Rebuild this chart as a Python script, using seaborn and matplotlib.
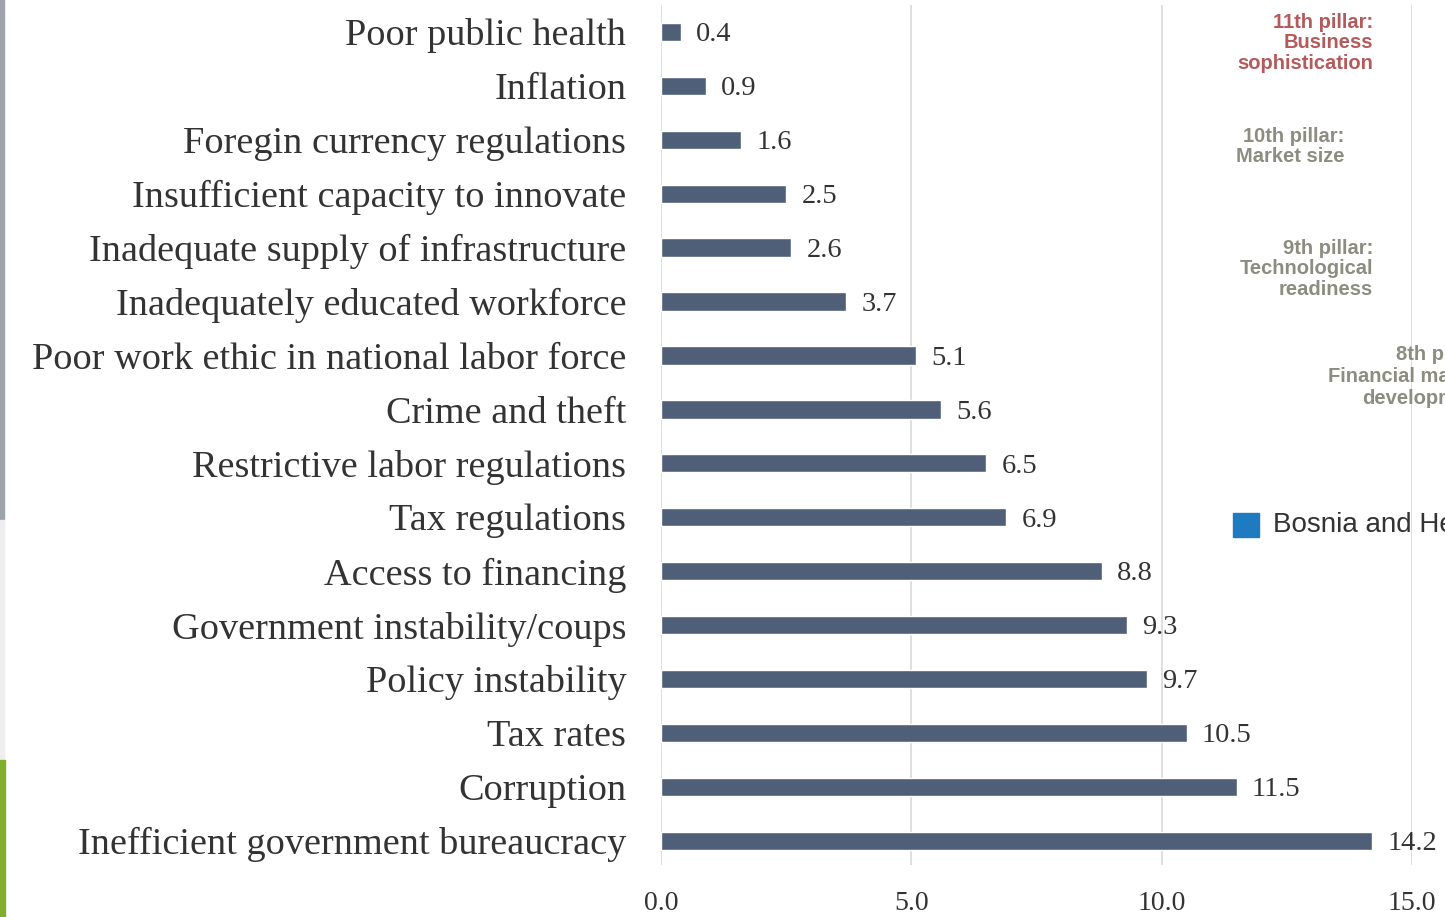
import matplotlib
matplotlib.use('Agg')
import matplotlib.pyplot as plt
import seaborn as sns
import pandas as pd

# 数据（自上而下）
factors = [
    'Poor public health',
    'Inflation',
    'Foregin currency regulations',
    'Insufficient capacity to innovate',
    'Inadequate supply of infrastructure',
    'Inadequately educated workforce',
    'Poor work ethic in national labor force',
    'Crime and theft',
    'Restrictive labor regulations',
    'Tax regulations',
    'Access to financing',
    'Government instability/coups',
    'Policy instability',
    'Tax rates',
    'Corruption',
    'Inefficient government bureaucracy',
]
scores = [0.4, 0.9, 1.6, 2.5, 2.6, 3.7, 5.1, 5.6, 6.5, 6.9, 8.8, 9.3, 9.7, 10.5, 11.5, 14.2]
x_ticks = [0.0, 5.0, 10.0, 15.0]

df = pd.DataFrame({'factor': factors, 'score': scores})

sns.set_theme(style='white')
plt.rcParams['font.family'] = ['Liberation Serif', 'DejaVu Serif']

W, H = 1445, 917
fig = plt.figure(figsize=(W / 100, H / 100), dpi=100)
ax = fig.add_axes([661 / W, 1 - 865 / H, (1412 - 661) / W, (865 - 5) / H])

sns.barplot(data=df, x='score', y='factor', orient='h', color='#505f78',
            width=0.34, saturation=1, ax=ax)

# 数值标签
for i, v in enumerate(scores):
    ax.annotate(f'{v:.1f}', xy=(v, i), xytext=(11, -2), textcoords='offset points',
                ha='left', va='center', fontsize=20.5, color='#333333')

ax.set_xlim(0, 15)
ax.set_ylim(15.45, -0.5)
ax.set_xticks(x_ticks)
ax.set_xticklabels([f'{t:.1f}' for t in x_ticks], fontsize=20, color='#333333')
ax.tick_params(axis='x', length=0, pad=19)
ax.tick_params(axis='y', length=0, pad=25, labelsize=27.5, labelcolor='#333333')
ax.set_xlabel('')
ax.set_ylabel('')
ax.xaxis.grid(True, color='#d9d9d9', linewidth=1.2)
ax.set_axisbelow(True)
for sp in ax.spines.values():
    sp.set_visible(False)

# 背景中残留的雷达图文字
sans = ['Liberation Sans', 'DejaVu Sans']
kw = dict(fontsize=14.5, fontweight='bold', family=sans, linespacing=1.1)
fig.text(1373 / W, 1 - 13 / H, '11th pillar:\nBusiness\nsophistication', ha='right', va='top',
         color='#b55a5a', **kw)
fig.text(1344 / W, 1 - 127 / H, '10th pillar:\nMarket size', ha='right', va='top',
         color='#8c8c80', **kw)
fig.text(1373 / W, 1 - 239 / H, '9th pillar:\nTechnological\nreadiness', ha='right', va='top',
         color='#8c8c80', **kw)
fig.text(1396 / W, 1 - 355 / H, '8th pillar:', ha='left', va='center', color='#8c8c80',
         fontsize=14.5, fontweight='bold', family=sans)
fig.text(1328 / W, 1 - 376 / H, 'Financial market', ha='left', va='center', color='#8c8c80',
         fontsize=14.5, fontweight='bold', family=sans)
fig.text(1362 / W, 1 - 398 / H, 'development', ha='left', va='center', color='#8c8c80',
         fontsize=14.5, fontweight='bold', family=sans)
fig.patches.append(plt.Rectangle((1233 / W, 1 - 537 / H), 26 / W, 24 / H,
                                 transform=fig.transFigure, color='#1f7bc1'))
fig.text(1273 / W, 1 - 525 / H, 'Bosnia and Herzegovina', ha='left', va='center',
         fontsize=20, color='#333333', family=sans)

# 左侧边缘的背景色条
fig.patches.append(plt.Rectangle((0, 1 - 520 / H), 4 / W, 520 / H,
                                 transform=fig.transFigure, color='#9ea2ad'))
fig.patches.append(plt.Rectangle((0, 1 - 760 / H), 4 / W, 240 / H,
                                 transform=fig.transFigure, color='#eeeeee'))
fig.patches.append(plt.Rectangle((0, 0), 5 / W, 157 / H,
                                 transform=fig.transFigure, color='#7fae2e'))

fig.savefig('out.png', dpi=100)
